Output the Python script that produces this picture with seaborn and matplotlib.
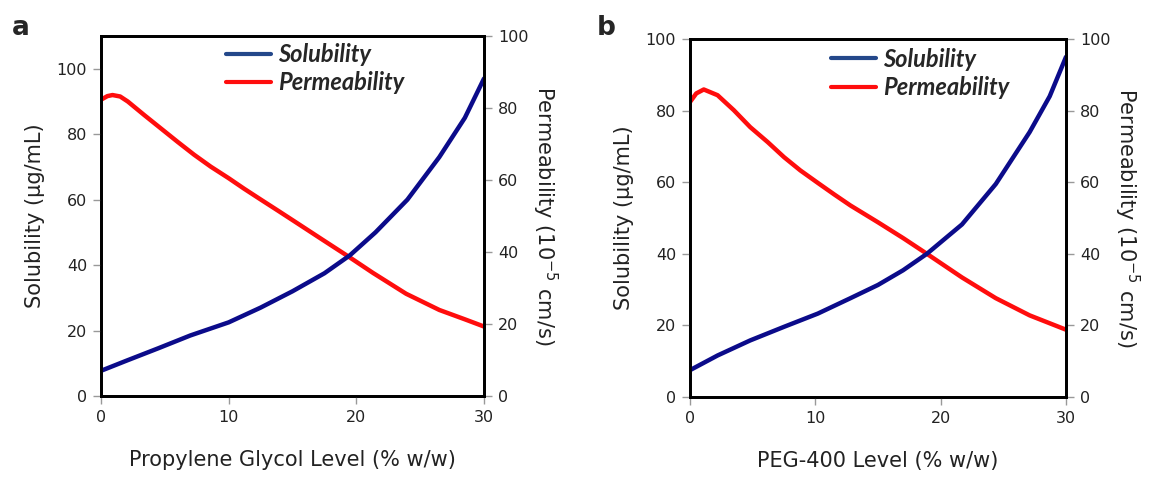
import numpy as np
import pandas as pd
import matplotlib
matplotlib.use("Agg")
import matplotlib.pyplot as plt
from matplotlib.lines import Line2D
import seaborn as sns

# ---- data ----
# Panel a: Propylene glycol
sol_x_a = [0, 2, 4.5, 7, 10, 12.5, 15, 17.5, 19.5, 21.5, 24, 26.5, 28.5, 30]
sol_a = [7.7, 10.8, 14.6, 18.5, 22.5, 27, 32, 37.5, 43, 50, 60, 73, 85, 97]
perm_x_a = [0, 0.5, 0.9, 1.5, 2.1, 3.4, 4.7, 6, 7.3, 8.6, 10, 11.2, 12.5, 13.9,
            15.2, 17.4, 19.4, 21.3, 23.9, 26.5, 28.5, 30]
perm_a = [82.3, 83.3, 83.6, 83.2, 81.8, 78, 74.3, 70.6, 67, 63.7, 60.5, 57.6,
          54.6, 51.4, 48.4, 43.3, 38.7, 34.2, 28.4, 23.9, 21.3, 19.3]

# Panel b: PEG-400
sol_x_b = [0, 2.2, 4.8, 7.5, 10.2, 12.8, 15, 17, 18.9, 21.7, 24.4, 27.1, 28.7, 30]
sol_b = [7.5, 11.6, 15.8, 19.6, 23.3, 27.6, 31.3, 35.4, 40, 48.2, 59.5, 74, 84, 95]
perm_x_b = [0, 0.5, 1.1, 2.2, 3.5, 4.8, 6.2, 7.5, 8.8, 10.2, 11.5, 12.8, 15, 17,
            18.9, 21.7, 24.4, 27.1, 30]
perm_b = [82.4, 84.8, 85.9, 84.3, 80.1, 75.4, 71.2, 67, 63.3, 59.8, 56.6, 53.5,
          48.8, 44.4, 40, 33.4, 27.6, 22.8, 18.8]

xlabels = ["Propylene Glycol Level (% w/w)", "PEG-400 Level (% w/w)"]
panel_letters = ["a", "b"]
series_names = ["Solubility", "Permeability"]
left_ylims = [110, 100]
xticks = [0, 10, 20, 30]
yticks = [0, 20, 40, 60, 80, 100]

sns.set_style("ticks")
plt.rcParams["font.family"] = ["DejaVu Sans"]

BLUE = "#0b0b8a"
BLUE_LEG = "#24488a"
RED = "#ff0d0d"

fig = plt.figure(figsize=(11.49, 4.78), dpi=100)
rects = [[101 / 1149, 82 / 478, 383 / 1149, 360 / 478],
         [690 / 1149, 81 / 478, 376 / 1149, 358 / 478]]
legend_anchor = [(0.27, 1.04), (0.318, 1.035)]
letter_pos = [(12 / 1149, 1 - 28 / 478), (597 / 1149, 1 - 28 / 478)]

datasets = [(sol_x_a, sol_a, perm_x_a, perm_a), (sol_x_b, sol_b, perm_x_b, perm_b)]

for i, (sx, sol, px, perm) in enumerate(datasets):
    ax = fig.add_axes(rects[i])
    ax2 = ax.twinx()
    sns.lineplot(x=sx, y=sol, ax=ax, color=BLUE, linewidth=3.2, sort=False,
                 solid_joinstyle="round")
    sns.lineplot(x=px, y=perm, ax=ax2, color=RED, linewidth=3.2, sort=False,
                 solid_joinstyle="round")
    ax.set_xlim(0, 30)
    ax.set_ylim(0, left_ylims[i])
    ax2.set_ylim(0, 100)
    ax.set_xticks(xticks)
    ax.set_yticks(yticks)
    ax2.set_yticks(yticks)
    for a in (ax, ax2):
        for s in a.spines.values():
            s.set_linewidth(2)
            s.set_color("black")
            s.set_visible(True)
        a.tick_params(axis="both", labelsize=11.5, color="#999999", width=1,
                      length=6, labelcolor="#222222", pad=4)
    ax.set_xlabel(xlabels[i], fontsize=15, labelpad=18, color="#222222")
    ax.set_ylabel("Solubility (\u00b5g/mL)", fontsize=15, labelpad=8, color="#222222")
    ax2.set_ylabel("Permeability (10$^{-5}$ cm/s)", fontsize=15, rotation=270,
                   labelpad=22, color="#222222")
    handles = [Line2D([0], [0], color=BLUE_LEG, lw=3),
               Line2D([0], [0], color=RED, lw=3)]
    ax.legend(handles, series_names, loc="upper left",
              bbox_to_anchor=legend_anchor[i], frameon=False,
              handlelength=1.9, handletextpad=0.3, labelspacing=0.22,
              prop={"family": "Lato", "weight": "bold", "style": "italic",
                    "size": 17})
    ax.set_zorder(ax2.get_zorder() + 1)
    ax.patch.set_visible(False)
    fig.text(letter_pos[i][0], letter_pos[i][1], panel_letters[i],
             fontsize=19, fontweight="bold", va="center", ha="left")

fig.savefig("out.png", dpi=100)
